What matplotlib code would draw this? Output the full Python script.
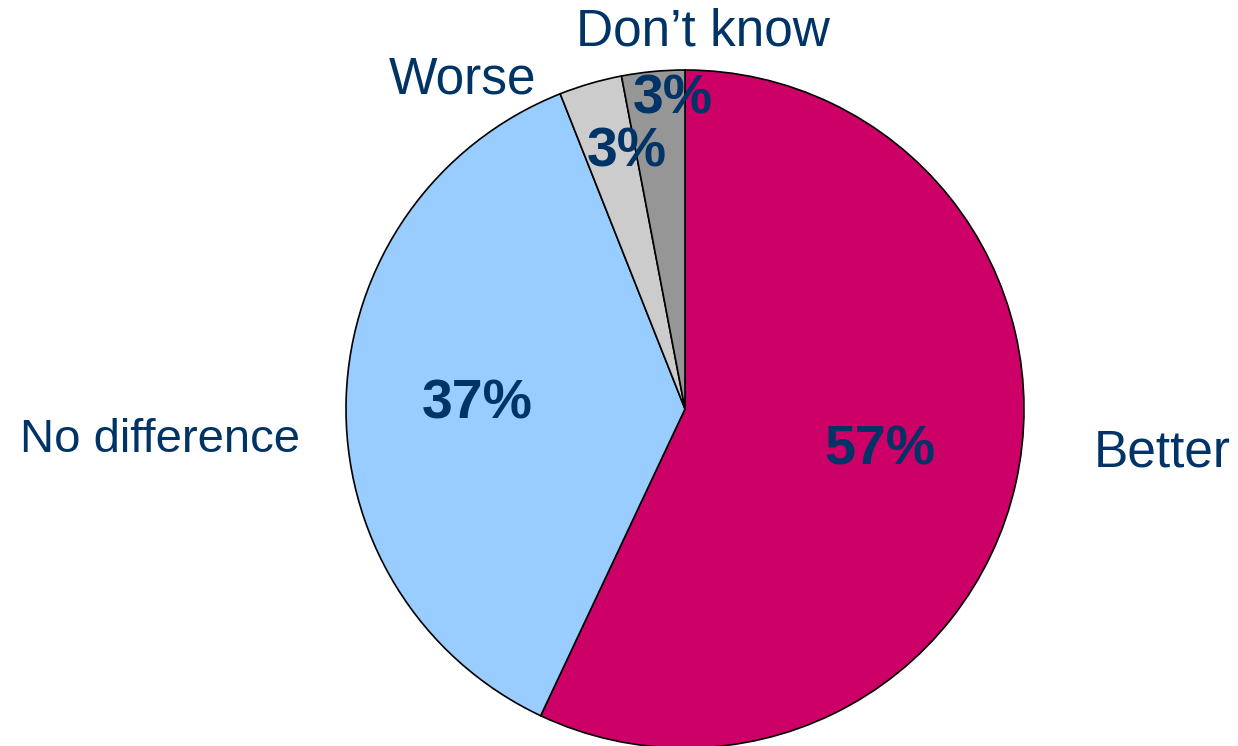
import matplotlib
matplotlib.use("Agg")
import matplotlib.pyplot as plt

categories = ["Better", "No difference", "Worse", "Don\u2019t know"]
values = [57, 37, 3, 3]
pct_labels = ["57%", "37%", "3%", "3%"]
colors = ["#CC0066", "#99CCFF", "#CCCCCC", "#969696"]

# label positions (data units, radius = 1)
label_pos = [(1.407, -0.130), (-1.549, -0.091), (-0.655, 0.971), (0.053, 1.112)]
label_size = [37, 34, 37, 37]
pct_pos = [(0.575, -0.121), (-0.614, 0.012), (-0.171, 0.758), (-0.035, 0.912)]

plt.rcParams['font.family'] = ['Liberation Sans', 'DejaVu Sans']
txt_color = "#003366"

fig = plt.figure(figsize=(12.38, 7.46), dpi=100)
ax = fig.add_axes([0, 0, 1, 1])
wedges, _ = ax.pie(values, colors=colors, startangle=90, counterclock=False,
                   radius=1.0, wedgeprops=dict(edgecolor="black", linewidth=1.2))
ax.set_aspect('auto')
ax.set_xlim(-685 / 339, (1238 - 685) / 339)
ax.set_ylim(-337 / 339, 409 / 339)
ax.axis('off')

for cat, (x, y), s in zip(categories, label_pos, label_size):
    ax.text(x, y, cat, ha='center', va='center', fontsize=s, color=txt_color)
for p, (x, y) in zip(pct_labels, pct_pos):
    ax.text(x, y, p, ha='center', va='center', fontsize=40, fontweight='bold', color=txt_color)

fig.savefig("out.png", dpi=100)
